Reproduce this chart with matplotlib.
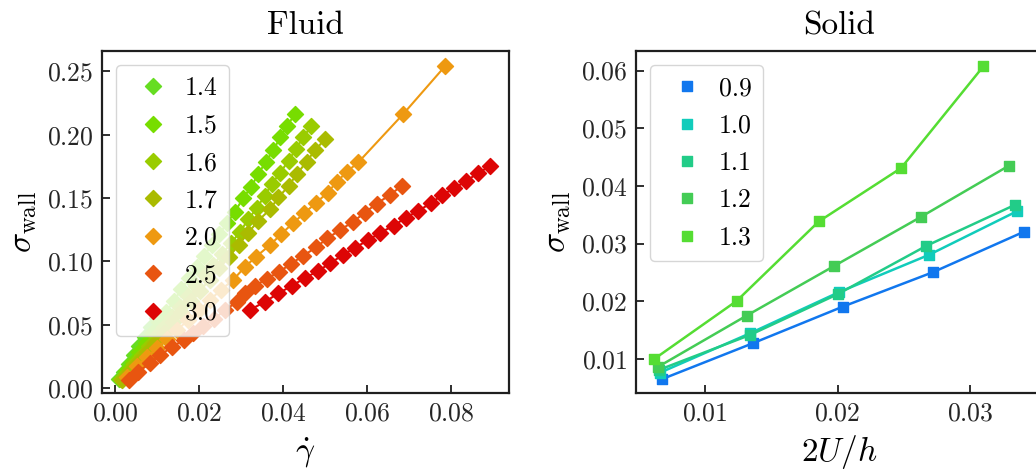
from matplotlib import pyplot as plt
from matplotlib.markers import MarkerStyle

plt.rcParams['font.family'] = 'serif'
plt.rcParams['font.serif'] = ['cmr10']
plt.rcParams['mathtext.fontset'] = 'cm'
plt.rcParams['axes.formatter.use_mathtext'] = True
plt.rcParams['axes.unicode_minus'] = False

# ---- Fluid: shear stress vs shear rate
fluidLabels = ['1.4', '1.5', '1.6', '1.7', '2.0', '2.5', '3.0']
fluidColors = ['#66dd22', '#77dd00', '#99cc00', '#aabb00', '#ee9911', '#e85510', '#dd0505']

fluidX = [
    [0.0010, 0.0021, 0.0033, 0.0045, 0.0058, 0.0071, 0.0085, 0.0099],
    [0.0013, 0.0027, 0.0042, 0.0057, 0.0073, 0.0089, 0.0105, 0.0122, 0.0140, 0.0158,
     0.0176, 0.0194, 0.0212, 0.0230, 0.0248, 0.0266, 0.0285, 0.0305, 0.0324, 0.0341,
     0.0359, 0.0377, 0.0393, 0.0409, 0.0429],
    [0.0015, 0.0030, 0.0046, 0.0063, 0.0080, 0.0098, 0.0116, 0.0135, 0.0154, 0.0173,
     0.0193, 0.0213, 0.0234, 0.0255, 0.0276, 0.0298, 0.0317, 0.0337, 0.0356, 0.0373,
     0.0393, 0.0413, 0.0430, 0.0448, 0.0467],
    [0.0016, 0.0035, 0.0055, 0.0075, 0.0095, 0.0116, 0.0137, 0.0158, 0.0180, 0.0202,
     0.0225, 0.0248, 0.0271, 0.0294, 0.0316, 0.0341, 0.0369, 0.0389, 0.0413, 0.0433,
     0.0456, 0.0476, 0.0500],
    [0.0028, 0.0052, 0.0076, 0.0100, 0.0124, 0.0148, 0.0174, 0.0200, 0.0226, 0.0252,
     0.0281, 0.0310, 0.0336, 0.0369, 0.0395, 0.0423, 0.0450, 0.0479, 0.0506, 0.0528,
     0.0552, 0.0579, 0.0686, 0.0786],
    [0.0032, 0.0055, 0.0083, 0.0107, 0.0135, 0.0163, 0.0186, 0.0210, 0.0236, 0.0262,
     0.0290, 0.0310, 0.0333, 0.0361, 0.0391, 0.0418, 0.0448, 0.0479, 0.0505, 0.0536,
     0.0567, 0.0595, 0.0623, 0.0655, 0.0683],
    [0.0321, 0.0357, 0.0389, 0.0421, 0.0451, 0.0483, 0.0512, 0.0542, 0.0571, 0.0602,
     0.0631, 0.0663, 0.0692, 0.0722, 0.0752, 0.0778, 0.0808, 0.0836, 0.0863, 0.0893],
]
fluidY = [
    [0.0070, 0.0130, 0.0195, 0.0262, 0.0332, 0.0405, 0.0480, 0.0555],
    [0.0075, 0.0140, 0.0210, 0.0285, 0.0360, 0.0440, 0.0520, 0.0605, 0.0690, 0.0780,
     0.0870, 0.0960, 0.1045, 0.1130, 0.1215, 0.1300, 0.1393, 0.1498, 0.1590, 0.1690,
     0.1787, 0.1879, 0.1979, 0.2069, 0.2164],
    [0.0070, 0.0130, 0.0195, 0.0265, 0.0335, 0.0410, 0.0485, 0.0565, 0.0645, 0.0725,
     0.0805, 0.0890, 0.0975, 0.1060, 0.1145, 0.1235, 0.1333, 0.1420, 0.1517, 0.1611,
     0.1700, 0.1795, 0.1885, 0.1979, 0.2068],
    [0.0065, 0.0135, 0.0210, 0.0285, 0.0360, 0.0440, 0.0520, 0.0600, 0.0685, 0.0770,
     0.0855, 0.0945, 0.1035, 0.1130, 0.1222, 0.1322, 0.1412, 0.1506, 0.1595, 0.1690,
     0.1787, 0.1879, 0.1964],
    [0.0091, 0.0176, 0.0247, 0.0318, 0.0389, 0.0460, 0.0539, 0.0614, 0.0697, 0.0776,
     0.0855, 0.0960, 0.1039, 0.1130, 0.1215, 0.1301, 0.1380, 0.1464, 0.1543, 0.1629,
     0.1708, 0.1782, 0.2163, 0.2542],
    [0.0065, 0.0131, 0.0197, 0.0263, 0.0323, 0.0382, 0.0437, 0.0492, 0.0547, 0.0618,
     0.0681, 0.0749, 0.0807, 0.0865, 0.0919, 0.0980, 0.1046, 0.1112, 0.1183, 0.1248,
     0.1315, 0.1386, 0.1457, 0.1526, 0.1599],
    [0.0618, 0.0683, 0.0749, 0.0809, 0.0868, 0.0925, 0.0986, 0.1051, 0.1109, 0.1167,
     0.1227, 0.1282, 0.1345, 0.1401, 0.1459, 0.1524, 0.1577, 0.1635, 0.1695, 0.1753],
]

# ---- Solid: shear stress vs 2U/h
solidLabels = ['0.9', '1.0', '1.1', '1.2', '1.3']
solidColors = ['#1177ee', '#11ccbb', '#22cc88', '#44cc55', '#55dd33']
solidX = [
    [0.00678, 0.0136, 0.0204, 0.0272, 0.0341],
    [0.0066, 0.0134, 0.0201, 0.0269, 0.0335],
    [0.0065, 0.0134, 0.0200, 0.0267, 0.0334],
    [0.00648, 0.01314, 0.01976, 0.0263, 0.03292],
    [0.00617, 0.01239, 0.01858, 0.02479, 0.0310],
]
solidY = [
    [0.00653, 0.01272, 0.01908, 0.02505, 0.0321],
    [0.00762, 0.01446, 0.02158, 0.02806, 0.03558],
    [0.00809, 0.01417, 0.02123, 0.02962, 0.03674],
    [0.00867, 0.01752, 0.02615, 0.03465, 0.04351],
    [0.0100, 0.02007, 0.03384, 0.0431, 0.06075],
]

tickSize = 18.5
labelSize = 24
textColor = '0.15'

fig = plt.figure(figsize=(10.36, 4.74), dpi=100)
axFluid = fig.add_axes([0.0985, 0.1709, 0.3929, 0.7215])
axSolid = fig.add_axes([0.6139, 0.1709, 0.3929, 0.7215])


def style_axis(ax):
    for spine in ax.spines.values():
        spine.set_linewidth(1.6)
        spine.set_color('0.12')
    ax.tick_params(direction='in', length=6, width=1.3, labelsize=tickSize,
                   colors='0.12', labelcolor=textColor, pad=6)


diamond = MarkerStyle('D', joinstyle='round')
for indSeries, label in enumerate(fluidLabels):
    col = fluidColors[indSeries]
    axFluid.plot(fluidX[indSeries], fluidY[indSeries], '-', color=col, lw=1.5)
    axFluid.plot(fluidX[indSeries], fluidY[indSeries], ls='none', marker=diamond,
                 ms=8.5, color=col, mec=col, mew=1, label=label)

square = MarkerStyle('s', joinstyle='round')
for indSeries, label in enumerate(solidLabels):
    col = solidColors[indSeries]
    axSolid.plot(solidX[indSeries], solidY[indSeries], '-', color=col, lw=1.8)
    axSolid.plot(solidX[indSeries], solidY[indSeries], ls='none', marker=square,
                 ms=7, color=col, mec=col, mew=1, label=label)

axFluid.set_xlim(-0.0031, 0.0938)
axFluid.set_ylim(-0.0037, 0.266)
axFluid.set_xticks([0.0, 0.02, 0.04, 0.06, 0.08])
axFluid.set_yticks([0.0, 0.05, 0.10, 0.15, 0.20, 0.25])
axFluid.set_xlabel(r'$\dot{\gamma}$', fontsize=labelSize, labelpad=8)
axFluid.set_ylabel(r'$\sigma_{\rm wall}$', fontsize=labelSize, labelpad=6)
axFluid.set_title('Fluid', fontsize=labelSize, pad=12)

axSolid.set_xlim(0.00479, 0.0355)
axSolid.set_ylim(0.0041, 0.0634)
axSolid.set_xticks([0.01, 0.02, 0.03])
axSolid.set_yticks([0.01, 0.02, 0.03, 0.04, 0.05, 0.06])
axSolid.set_xlabel(r'$2U/h$', fontsize=labelSize, labelpad=6)
axSolid.set_ylabel(r'$\sigma_{\rm wall}$', fontsize=labelSize, labelpad=6)
axSolid.set_title('Solid', fontsize=labelSize, pad=12)

for ax in [axFluid, axSolid]:
    style_axis(ax)
    ax.legend(loc='upper left', fontsize=tickSize, numpoints=1, borderpad=0.45,
              borderaxespad=0.55, handletextpad=0.23, labelspacing=0.53)

fig.savefig('out.png', dpi=100)
